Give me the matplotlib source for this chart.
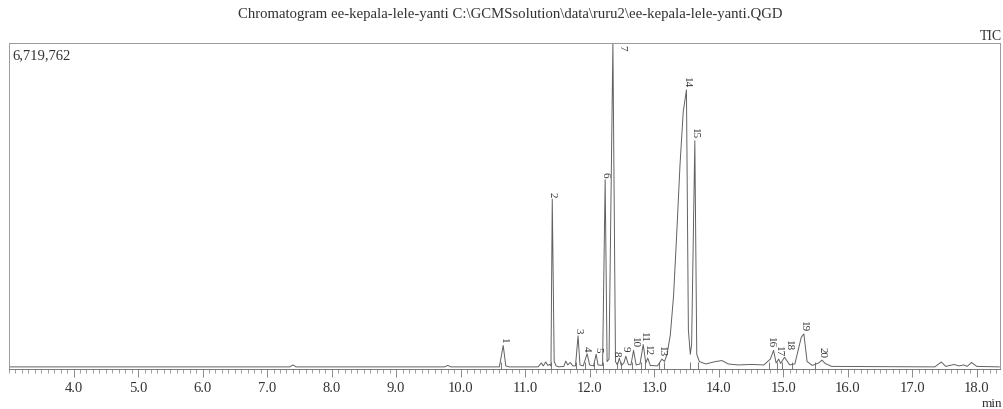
import matplotlib.pyplot as plt
from matplotlib.ticker import MultipleLocator

plt.rcParams['font.family'] = ['Liberation Serif', 'DejaVu Serif']

# trace vertices (retention time in min, intensity)
rt = [3.00, 7.35, 7.40, 7.45, 9.75, 9.80, 9.85, 10.60, 10.66, 10.70, 10.75,
      11.20, 11.25, 11.28, 11.32, 11.35, 11.38, 11.40, 11.42, 11.45, 11.48, 11.52,
      11.60, 11.63, 11.66, 11.70, 11.74, 11.78, 11.82, 11.85, 11.90, 11.96, 12.00,
      12.06, 12.10, 12.13, 12.20, 12.24, 12.27, 12.30, 12.36, 12.40, 12.43, 12.46,
      12.49, 12.53, 12.56, 12.60, 12.64, 12.68, 12.72, 12.78, 12.83, 12.87, 12.90,
      12.94, 13.05, 13.12, 13.16, 13.20, 13.25, 13.30, 13.35, 13.40, 13.45, 13.50,
      13.53, 13.56, 13.58, 13.63, 13.66, 13.70, 13.80, 13.95, 14.05, 14.15, 14.30,
      14.50, 14.70, 14.80, 14.85, 14.89, 14.93, 14.96, 15.02, 15.05, 15.10, 15.18,
      15.28, 15.32, 15.37, 15.45, 15.55, 15.60, 15.65, 15.75, 17.35, 17.45, 17.52,
      17.65, 17.72, 17.80, 17.85, 17.92, 18.00, 18.35]
tic = [40000, 40000, 80000, 40000, 40000, 70000, 40000, 40000, 480000, 60000, 40000,
       40000, 120000, 60000, 140000, 70000, 90000, 60000, 3500000, 150000, 60000, 40000,
       50000, 160000, 80000, 130000, 60000, 60000, 680000, 80000, 60000, 310000, 80000,
       60000, 300000, 80000, 70000, 3900000, 150000, 200000, 6719762, 150000, 80000, 220000,
       70000, 120000, 260000, 90000, 80000, 380000, 80000, 100000, 500000, 120000, 220000,
       70000, 60000, 200000, 150000, 300000, 700000, 1500000, 2800000, 4200000, 5300000, 5750000,
       800000, 300000, 500000, 4700000, 300000, 150000, 100000, 150000, 170000, 100000, 80000,
       90000, 80000, 200000, 380000, 120000, 200000, 110000, 240000, 180000, 80000, 100000,
       650000, 720000, 150000, 70000, 120000, 180000, 110000, 50000, 40000, 140000, 50000,
       90000, 60000, 80000, 50000, 130000, 50000, 40000]

# labelled peaks
peak_no = [str(i) for i in range(1, 21)]
peak_rt = [10.66, 11.42, 11.82, 11.96, 12.10, 12.24, 12.36, 12.46, 12.56, 12.68,
           12.83, 12.90, 13.12, 13.50, 13.63, 14.85, 14.93, 15.05, 15.32, 15.60]
peak_h = [480000, 3500000, 680000, 310000, 300000, 3900000, 6719762, 220000, 260000, 380000,
          500000, 220000, 200000, 5750000, 4700000, 380000, 200000, 240000, 720000, 180000]

# small shifts of crowded labels (min, counts)
nudge_x = {'4': -0.02, '5': 0.02, '8': -0.05, '9': -0.01, '10': 0.02,
           '16': -0.04, '17': -0.01, '18': 0.03}
nudge_y = {'9': 60000, '18': 80000}

# integration marks (peak start / end)
mark_rt = [10.63, 11.40, 11.79, 11.93, 12.07, 12.21, 12.42, 12.48, 12.66, 12.80,
           12.86, 13.08, 13.15, 13.55, 13.68, 14.78, 14.90, 14.98, 15.13, 15.50]

fig = plt.figure(figsize=(10.04, 4.10), dpi=100)
ax = fig.add_axes([0.009, 0.098, 0.987, 0.795])

ax.plot(rt, tic, color='#606060', lw=0.7)
ax.plot(mark_rt, [60000] * len(mark_rt), '|', color='#606060', ms=6, mew=0.6)

for n, x, h in zip(peak_no, peak_rt, peak_h):
    if n == '7':
        ax.text(x + 0.06, h * 0.995, n, rotation=-90, ha='left', va='top',
                fontsize=8, color='#333333')
        continue
    ax.text(x + nudge_x.get(n, 0), h + 60000 + nudge_y.get(n, 0), n, rotation=-90,
            ha='center', va='bottom', fontsize=8, color='#333333')

ax.set_xlim(3.0, 18.36)
ax.set_ylim(0, 6719762)
ax.set_yticks([])
ax.xaxis.set_minor_locator(MultipleLocator(0.1))
ax.set_xticks([4, 5, 6, 7, 8, 9, 10, 11, 12, 13, 14, 15, 16, 17, 18])
ax.set_xticklabels(['%.1f' % v for v in range(4, 19)], fontsize=10.5, color='#333333')
ax.tick_params(axis='x', which='major', length=6, width=0.6, direction='out', color='#777777', pad=3)
ax.tick_params(axis='x', which='minor', length=3, width=0.5, direction='out', color='#777777')
for s in ax.spines.values():
    s.set_color('#999999')
    s.set_linewidth(0.7)
ax.spines['bottom'].set_color('#777777')

ax.text(0.003, 0.985, '6,719,762', transform=ax.transAxes, ha='left', va='top',
        fontsize=10.5, color='#333333')
fig.text(0.998, 0.895, 'TIC', ha='right', va='bottom', fontsize=10, color='#333333')
fig.text(0.988, 0.0, 'min', ha='center', va='bottom', fontsize=9.5, color='#333333')
fig.text(0.508, 0.965, r'Chromatogram ee-kepala-lele-yanti C:\GCMSsolution\data\ruru2\ee-kepala-lele-yanti.QGD',
         ha='center', va='center', fontsize=10.6, color='#333333')

fig.savefig('out.png', dpi=100)
